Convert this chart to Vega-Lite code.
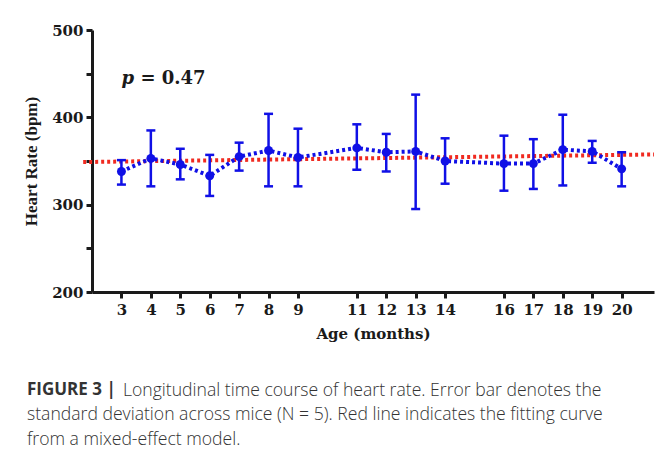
{
  "$schema": "https://vega.github.io/schema/vega-lite/v6.json",
  "autosize": "none",
  "width": 562,
  "height": 262,
  "padding": {"left": 92, "top": 30, "right": 13, "bottom": 165},
  "background": "white",
  "config": {
    "view": {"stroke": null},
    "axis": {
      "grid": false,
      "domainColor": "#1a1a1a",
      "domainWidth": 3,
      "tickColor": "#1a1a1a",
      "tickWidth": 3,
      "tickSize": 6,
      "labelFont": "DejaVu Serif",
      "labelFontWeight": "bold",
      "labelFontSize": 15,
      "labelColor": "#1a1a1a",
      "labelOverlap": false,
      "titleFont": "DejaVu Serif",
      "titleFontWeight": "bold",
      "titleFontSize": 15,
      "titleColor": "#1a1a1a"
    }
  },
  "title": {
    "text": "FIGURE 3 |",
    "subtitle": [
      "\u200b\u00a0\u00a0\u00a0\u00a0\u00a0\u00a0\u00a0\u00a0\u00a0\u00a0\u00a0\u00a0\u00a0\u00a0\u00a0\u00a0\u00a0\u00a0\u00a0\u00a0\u00a0Longitudinal time course of heart rate. Error bar denotes the",
      "standard deviation across mice (N = 5). Red line indicates the fitting curve",
      "from a mixed-effect model."
    ],
    "orient": "bottom",
    "anchor": "start",
    "frame": "group",
    "offset": 41,
    "dx": -65,
    "font": "Open Sans",
    "fontWeight": "bold",
    "fontSize": 17,
    "color": "#333333",
    "subtitleFont": "Open Sans",
    "subtitleFontWeight": 300,
    "subtitleFontSize": 17.6,
    "subtitleColor": "#333333",
    "subtitleLineHeight": 24.5,
    "subtitlePadding": -17.5
  },
  "datasets": {
    "hr": [
      {"month": 3, "hr": 338, "lo": 323, "hi": 351},
      {"month": 4, "hr": 353, "lo": 321, "hi": 385},
      {"month": 5, "hr": 346, "lo": 329, "hi": 364},
      {"month": 6, "hr": 333, "lo": 310, "hi": 357},
      {"month": 7, "hr": 355, "lo": 339, "hi": 371},
      {"month": 8, "hr": 362, "lo": 321, "hi": 404},
      {"month": 9, "hr": 354, "lo": 321, "hi": 387},
      {"month": 11, "hr": 365, "lo": 340, "hi": 392},
      {"month": 12, "hr": 360, "lo": 338, "hi": 381},
      {"month": 13, "hr": 361, "lo": 295, "hi": 426},
      {"month": 14, "hr": 350, "lo": 324, "hi": 376},
      {"month": 16, "hr": 347, "lo": 316, "hi": 379},
      {"month": 17, "hr": 347, "lo": 318, "hi": 375},
      {"month": 18, "hr": 363, "lo": 322, "hi": 403},
      {"month": 19, "hr": 361, "lo": 348, "hi": 373},
      {"month": 20, "hr": 341, "lo": 321, "hi": 360}
    ],
    "fit": [
      {"month": 1.7, "hr": 348.8},
      {"month": 21.1, "hr": 357.5}
    ]
  },
  "layer": [
    {
      "data": {"name": "fit"},
      "mark": {"type": "line", "color": "#f02a20", "strokeWidth": 4, "strokeDash": [3, 3]},
      "encoding": {
        "x": {
          "field": "month", "type": "quantitative",
          "scale": {"domain": [2, 21.1], "nice": false, "zero": false},
          "axis": {
            "values": [3, 4, 5, 6, 7, 8, 9, 11, 12, 13, 14, 16, 17, 18, 19, 20],
            "tickCount": 30,
            "format": "d",
            "title": "Age (months)",
            "labelOverlap": false,
            "labelPadding": 4,
            "titlePadding": 9,
            "labelFlush": false
          }
        },
        "y": {
          "field": "hr", "type": "quantitative",
          "scale": {"domain": [200, 500], "nice": false, "zero": false},
          "axis": {
            "values": [200, 250, 300, 350, 400, 450, 500],
            "tickCount": 20,
            "format": "d",
            "labelExpr": "datum.value % 100 === 0 ? datum.label : ''",
            "labelOverlap": false,
            "title": "Heart Rate (bpm)",
            "titleFont": "Liberation Serif",
            "titleFontSize": 17,
            "labelPadding": 3,
            "titlePadding": 11
          }
        }
      }
    },
    {
      "data": {"name": "hr"},
      "mark": {"type": "line", "color": "#1010e6", "strokeWidth": 4, "strokeDash": [3, 3]},
      "encoding": {
        "x": {"field": "month", "type": "quantitative"},
        "y": {"field": "hr", "type": "quantitative"}
      }
    },
    {
      "data": {"name": "hr"},
      "mark": {"type": "rule", "color": "#1010e6", "strokeWidth": 2.5},
      "encoding": {
        "x": {"field": "month", "type": "quantitative"},
        "y": {"field": "lo", "type": "quantitative"},
        "y2": {"field": "hi"}
      }
    },
    {
      "data": {"name": "hr"},
      "mark": {"type": "tick", "color": "#1010e6", "orient": "horizontal", "size": 9, "thickness": 2.5, "opacity": 1},
      "encoding": {
        "x": {"field": "month", "type": "quantitative"},
        "y": {"field": "lo", "type": "quantitative"}
      }
    },
    {
      "data": {"name": "hr"},
      "mark": {"type": "tick", "color": "#1010e6", "orient": "horizontal", "size": 9, "thickness": 2.5, "opacity": 1},
      "encoding": {
        "x": {"field": "month", "type": "quantitative"},
        "y": {"field": "hi", "type": "quantitative"}
      }
    },
    {
      "data": {"name": "hr"},
      "mark": {"type": "circle", "color": "#1010e6", "size": 80, "opacity": 1},
      "encoding": {
        "x": {"field": "month", "type": "quantitative"},
        "y": {"field": "hr", "type": "quantitative"}
      }
    },
    {
      "data": {"values": [{"month": 3, "hr": 444, "sym": "p", "rest": "= 0.47"}]},
      "layer": [
        {
          "mark": {"type": "text", "align": "left", "baseline": "middle", "font": "DejaVu Serif", "fontWeight": "bold", "fontStyle": "italic", "fontSize": 18, "color": "#1a1a1a"},
          "encoding": {
            "x": {"field": "month", "type": "quantitative"},
            "y": {"field": "hr", "type": "quantitative"},
            "text": {"field": "sym"}
          }
        },
        {
          "mark": {"type": "text", "align": "left", "baseline": "middle", "font": "DejaVu Serif", "fontWeight": "bold", "fontSize": 18, "color": "#1a1a1a", "dx": 19},
          "encoding": {
            "x": {"field": "month", "type": "quantitative"},
            "y": {"field": "hr", "type": "quantitative"},
            "text": {"field": "rest"}
          }
        }
      ]
    }
  ]
}
